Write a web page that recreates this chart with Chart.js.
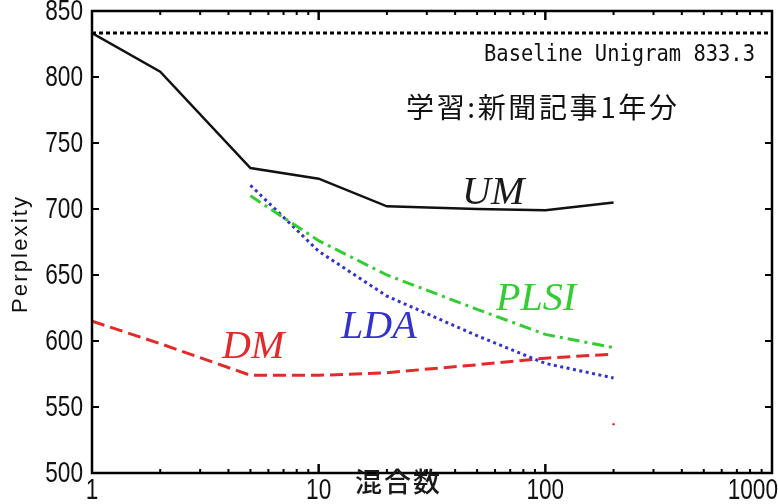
<!DOCTYPE html>
<html>
<head>
<meta charset="utf-8">
<script src="https://cdn.jsdelivr.net/npm/chart.js@4.4.1/dist/chart.umd.min.js"></script>
<style>
  body { margin: 0; background: #fff; }
  #wrap { width: 778px; height: 504px; }
</style>
</head>
<body>
<div id="wrap"><canvas id="ppChart"></canvas></div>
<script>
// number of mixtures (log x axis)
const mixtures = [1, 2, 5, 10, 20, 50, 100, 200];

const umValues   = [833.3, 804, 731, 723, 702, 700, 699, 705];
const plsiValues = [null, null, 710, 676, 650, 624, 605, 595];
const ldaValues  = [null, null, 718, 668, 634, 604, 583, 572];
const dmValues   = [615, 598, 574, 574, 576, 582, 587, 590];

const baselineValue = 833.3;
const strayPoint = [{ x: 200, y: 537 }];

const xTickLabels = [1, 10, 100, 1000];
const yTickLabels = [500, 550, 600, 650, 700, 750, 800, 850];

function toPoints(values) {
    return mixtures
        .map((x, i) => ({ x: x, y: values[i] }))
        .filter(p => p.y !== null);
}

const sans = '"Liberation Sans", Arial, sans-serif';
const serifItalic = 'italic 40px "Liberation Serif", "DejaVu Serif", serif';
const cjk = '"Noto Sans CJK JP", "Noto Sans CJK SC", sans-serif';

// draws text stretched out to a given width by letter spacing
function spacedText(c, text, x, y, width) {
    c.letterSpacing = "0px";
    const w = c.measureText(text).width;
    const extra = (width - w) / (text.length - 1);
    c.letterSpacing = extra + "px";
    c.fillText(text, x, y);
    c.letterSpacing = "0px";
}

// draws text squeezed horizontally by a factor, anchored by textAlign
function narrowText(c, text, x, y, sx) {
    c.save();
    c.translate(x, y);
    c.scale(sx, 1);
    c.fillText(text, 0, 0);
    c.restore();
}

const framePlugin = {
    id: "frame",
    afterDraw(chart) {
        const c = chart.ctx;
        const a = chart.chartArea;
        const xs = chart.scales.x;
        const ys = chart.scales.y;
        c.save();
        c.strokeStyle = "#000";
        c.fillStyle = "#000";

        // inward ticks, y axis (both sides)
        c.lineWidth = 2;
        yTickLabels.forEach(v => {
            const py = ys.getPixelForValue(v);
            c.beginPath();
            c.moveTo(a.left, py); c.lineTo(a.left + 7, py);
            c.moveTo(a.right, py); c.lineTo(a.right - 7, py);
            c.stroke();
        });

        // inward ticks, x axis (log: major + minor)
        for (let dec = 1; dec < 1000; dec *= 10) {
            for (let k = 1; k <= 10; k++) {
                const v = dec * k;
                const px = xs.getPixelForValue(v);
                const len = (k === 1 || k === 10) ? 9 : 4;
                c.beginPath();
                c.moveTo(px, a.bottom); c.lineTo(px, a.bottom - len);
                c.moveTo(px, a.top); c.lineTo(px, a.top + len);
                c.stroke();
            }
        }

        // frame
        c.lineWidth = 2.5;
        c.strokeRect(a.left, a.top, a.right - a.left, a.bottom - a.top);

        // tick labels
        c.fillStyle = "#111";
        c.font = "29px " + sans;
        c.textAlign = "right";
        c.textBaseline = "middle";
        yTickLabels.forEach(v => {
            narrowText(c, String(v), 83, ys.getPixelForValue(v) + 1, 0.78);
        });
        xTickLabels.forEach((v, i) => {
            const last = i === xTickLabels.length - 1;
            c.textAlign = last ? "right" : "center";
            const px = last ? 778 : xs.getPixelForValue(v);
            narrowText(c, String(v), px, 491, 0.78);
        });

        // axis titles
        c.font = "500 27px " + cjk;
        c.textAlign = "left";
        c.fillStyle = "#1a1a1a";
        spacedText(c, "混合数", 355, 482, 85);

        c.save();
        c.translate(21, 255);
        c.rotate(-Math.PI / 2);
        c.font = "22px " + sans;
        c.fillStyle = "#111";
        c.textAlign = "left";
        spacedText(c, "Perplexity", -58, 0, 116);
        c.restore();

        // annotations
        c.fillStyle = "#111";
        c.textBaseline = "middle";
        c.font = '23px "DejaVu Sans Mono", "Liberation Mono", monospace';
        const baseText = "Baseline Unigram 833.3";
        const bw = c.measureText(baseText).width;
        narrowText(c, baseText, 484, 55, 271 / bw);

        c.font = "28px " + cjk;
        spacedText(c, "学習:新聞記事1年分", 406, 107, 271);

        c.textBaseline = "alphabetic";
        c.font = serifItalic;
        c.fillStyle = "#1a1a1a";
        c.fillText("UM", 462, 204);
        c.fillStyle = "#33cc33";
        c.fillText("PLSI", 496, 310);
        c.fillStyle = "#3333cc";
        c.fillText("LDA", 341, 338);
        c.fillStyle = "#e32a2a";
        c.fillText("DM", 222, 358);
        c.restore();
    }
};

new Chart(document.getElementById("ppChart"), {
    type: "line",
    data: {
        datasets: [
            {
                label: "Baseline",
                data: [{ x: 1, y: baselineValue }, { x: 1000, y: baselineValue }],
                borderColor: "#000",
                borderWidth: 3,
                borderDash: [4, 3]
            },
            {
                label: "UM",
                data: toPoints(umValues),
                borderColor: "#111",
                borderWidth: 2.5
            },
            {
                label: "PLSI",
                data: toPoints(plsiValues),
                borderColor: "#33cc33",
                borderWidth: 3,
                borderDash: [12, 5, 3, 5]
            },
            {
                label: "LDA",
                data: toPoints(ldaValues),
                borderColor: "#3333cc",
                borderWidth: 3,
                borderDash: [3, 3.5]
            },
            {
                label: "DM",
                data: toPoints(dmValues),
                borderColor: "#e32a2a",
                borderWidth: 3,
                borderDash: [13, 6]
            },
            {
                label: "stray",
                type: "scatter",
                data: strayPoint,
                pointRadius: 1.2,
                pointBackgroundColor: "#e32a2a",
                pointBorderWidth: 0
            }
        ]
    },
    options: {
        responsive: true,
        maintainAspectRatio: false,
        animation: false,
        layout: { padding: { top: 11, right: 6, left: 0, bottom: 0 } },
        elements: {
            point: { radius: 0 },
            line: { tension: 0, fill: false }
        },
        plugins: {
            legend: { display: false },
            tooltip: { enabled: false }
        },
        scales: {
            x: {
                type: "logarithmic",
                min: 1,
                max: 1000,
                ticks: { display: false },
                grid: { display: false },
                border: { display: false },
                afterFit: s => { s.height = 31; }
            },
            y: {
                min: 500,
                max: 850,
                ticks: { display: false },
                grid: { display: false },
                border: { display: false },
                afterFit: s => { s.width = 92; }
            }
        }
    },
    plugins: [framePlugin]
});
</script>
</body>
</html>
